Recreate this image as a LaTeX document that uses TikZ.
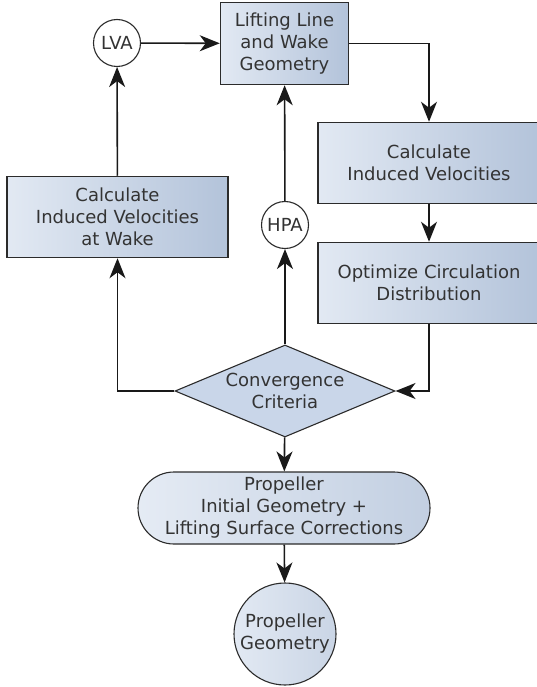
\documentclass[tikz,border=0pt]{standalone}
\usepackage{fontspec}
\setmainfont{DejaVu Sans}
\usetikzlibrary{shapes.geometric,shapes.misc,arrows.meta}
\definecolor{lightb}{HTML}{E2E9F3}
\definecolor{darkb}{HTML}{B3C3DA}
\definecolor{diab}{HTML}{C9D6E9}
\definecolor{edge}{HTML}{2B2B2B}
\tikzset{
  every node/.style={font=\fontsize{18}{22}\selectfont, text=black!80, align=center, inner sep=0pt},
  procbox/.style={rectangle, draw=edge, line width=1.5pt, left color=lightb, right color=darkb},
  smallcirc/.style={circle, draw=edge, line width=1.1pt, fill=white, minimum size=47pt},
  decis/.style={diamond, draw=edge, line width=1.1pt, fill=diab, aspect=2.4, minimum width=220pt, minimum height=92pt},
  term/.style={rounded rectangle, draw=edge, line width=1.1pt, left color=lightb!90!white, right color=darkb!80!white, minimum width=292pt, minimum height=72pt},
  endcirc/.style={circle, draw=edge, line width=1.1pt, left color=lightb, right color=darkb!70!white, minimum size=102pt},
  conn/.style={draw=black!90, line width=1.6pt, -{Stealth[length=20pt,width=16pt,inset=6pt]}},
}
\begin{document}
\begin{tikzpicture}[x=1pt,y=-1pt]
\useasboundingbox (0,0) rectangle (537,687);
\node[smallcirc] (lva) at (117,43) {LVA};
\node[procbox, minimum width=128pt, minimum height=82pt] (llw) at (284.5,43.5) {Lifting Line\\and Wake\\Geometry};
\node[procbox, minimum width=222pt, minimum height=81pt] (civ) at (429,163) {Calculate\\Induced Velocities};
\node[procbox, minimum width=222pt, minimum height=81pt] (opt) at (429,283) {Optimize Circulation\\Distribution};
\node[procbox, minimum width=221pt, minimum height=81pt] (wake) at (117.5,217) {Calculate\\Induced Velocities\\at Wake};
\node[smallcirc] (hpa) at (285,225) {HPA};
\node[decis] (conv) at (285,391) {Convergence\\Criteria};
\node[term] (prop) at (284,508) {Propeller\\Initial Geometry +\\Lifting Surface Corrections};
\node[endcirc] (pg) at (285,634) {Propeller\\Geometry};
\coordinate (c1) at (429,43.5);
\coordinate (c2) at (429,391);
\coordinate (c3) at (117.5,391);
\draw[conn] (lva) -- (llw);
\draw[conn] (llw.east) -- (c1) -- (civ.north);
\draw[conn] (civ) -- (opt);
\draw[conn] (opt.south) -- (c2) -- (conv.east);
\draw[conn] (conv.west) -- (c3) -- (wake.south);
\draw[conn] (wake) -- (lva);
\draw[conn] (conv) -- (hpa);
\draw[conn] (hpa) -- (llw);
\draw[conn] (conv) -- (prop);
\draw[conn] (prop) -- (pg);
\end{tikzpicture}
\end{document}
